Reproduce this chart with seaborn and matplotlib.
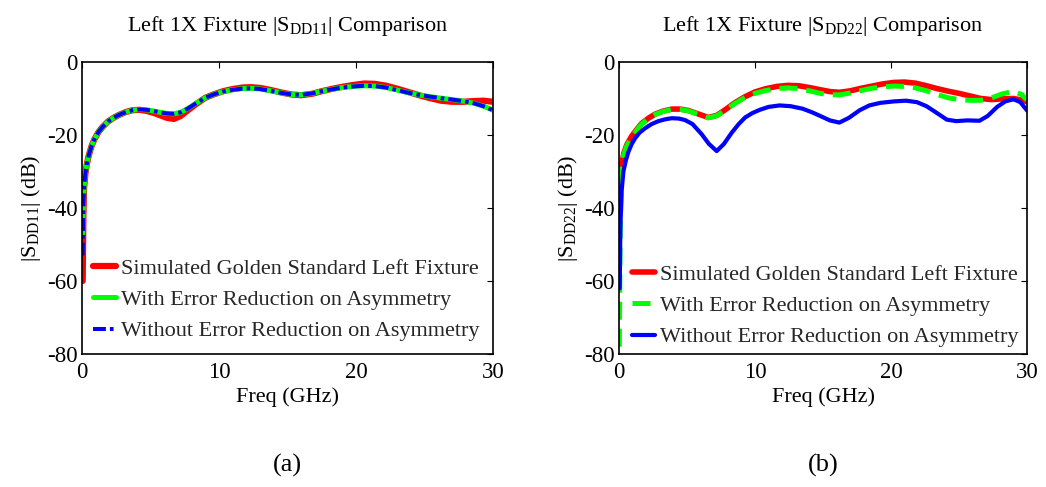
import matplotlib
matplotlib.use("Agg")
import matplotlib.pyplot as plt
import seaborn as sns

# ---- Panel (a): |S_DD11| of the left 1X fixture ----
freq_a = [0.05, 0.1, 0.15, 0.25, 0.35, 0.5, 0.7, 0.9, 1.2, 1.5, 1.9, 2.3, 2.7,
          3.2, 3.7, 4.2, 4.7, 5.2, 5.7, 6.2, 6.7, 7.2, 7.7, 8.3, 9.0, 9.6,
          10.3, 11.0, 11.7, 12.3, 13.0, 13.8, 14.6, 15.3, 16.0, 16.8, 17.5,
          18.2, 19.0, 19.8, 20.6, 21.4, 22.2, 23.0, 23.8, 24.6, 25.4, 26.2,
          27.0, 27.8, 28.6, 29.3, 30.0]
golden_a = [-60, -42, -34.5, -30.5, -28, -25.5, -23, -21.2, -19.2, -17.8, -16.3,
            -15.3, -14.5, -13.7, -13.2, -13.1, -13.4, -13.9, -14.6, -15.3, -15.6,
            -14.8, -13.3, -11.6, -9.8, -8.9, -8.0, -7.4, -7.0, -6.9, -7.1, -7.7,
            -8.4, -8.9, -9.1, -8.7, -8.0, -7.4, -6.8, -6.3, -5.9, -6.0, -6.5,
            -7.3, -8.2, -9.1, -9.9, -10.6, -10.9, -10.9, -10.7, -10.6, -10.9]
with_red_a = [-47, -40, -34, -30.5, -28, -25.5, -23, -21.2, -19.2, -17.8, -16.3,
              -15.3, -14.5, -13.7, -13.2, -13.0, -13.1, -13.4, -13.8, -14.1, -14.2,
              -13.8, -12.8, -11.4, -9.8, -8.9, -8.1, -7.6, -7.3, -7.2, -7.4, -7.9,
              -8.5, -8.9, -9.0, -8.6, -8.0, -7.5, -7.0, -6.7, -6.5, -6.6, -7.0,
              -7.7, -8.4, -9.0, -9.5, -9.9, -10.3, -10.7, -11.3, -12.1, -13.2]
without_red_a = [-53, -40, -34, -30.5, -28, -25.5, -23, -21.2, -19.2, -17.8, -16.3,
                 -15.3, -14.5, -13.7, -13.2, -13.0, -13.1, -13.4, -13.8, -14.1, -14.2,
                 -13.8, -12.8, -11.4, -9.8, -8.9, -8.1, -7.6, -7.3, -7.2, -7.4, -7.9,
                 -8.5, -8.9, -9.0, -8.6, -8.0, -7.5, -7.0, -6.7, -6.5, -6.6, -7.0,
                 -7.7, -8.4, -9.0, -9.5, -9.9, -10.3, -10.7, -11.3, -12.1, -13.2]

# ---- Panel (b): |S_DD22| of the left 1X fixture ----
freq_b_golden = [0.05, 0.1, 0.2, 0.35, 0.57, 0.93, 1.3, 1.67, 2.2, 2.65, 3.2, 3.87,
                 4.5, 5.1, 5.8, 6.57, 7.2, 7.8, 8.5, 9.27, 10.0, 10.8, 11.6, 12.4,
                 13.2, 14.0, 14.8, 15.5, 16.2, 17.0, 17.8, 18.6, 19.4, 20.2, 21.0,
                 21.8, 22.6, 23.4, 24.2, 25.0, 25.8, 26.6, 27.4, 28.2, 29.0, 29.6,
                 30.0]
golden_b = [-37, -32, -28, -25, -22.7, -20.3, -18.5, -16.8, -15.3, -14.3, -13.5,
            -12.9, -12.9, -13.3, -14.2, -15.2, -14.6, -13.1, -11.2, -9.5, -8.2,
            -7.3, -6.7, -6.4, -6.5, -7.0, -7.6, -8.1, -8.3, -7.9, -7.2, -6.6, -6.0,
            -5.6, -5.5, -5.8, -6.5, -7.3, -8.0, -8.6, -9.3, -10.0, -10.3, -10.1,
            -10.0, -10.4, -10.9]

freq_b_with = [0.02, 0.08, 0.15, 0.2, 0.35, 0.57, 0.93, 1.3, 1.67, 2.2, 2.65, 3.2,
               3.87, 4.5, 5.1, 5.8, 6.57, 7.2, 7.8, 8.5, 9.27, 10.0, 10.8, 11.6,
               12.4, 13.2, 14.0, 14.8, 15.5, 16.2, 17.0, 17.8, 18.6, 19.4, 20.2,
               21.0, 21.8, 22.6, 23.4, 24.2, 25.0, 25.8, 26.6, 27.4, 28.2, 29.0,
               29.6, 30.0]
with_red_b = [-78, -50, -33, -28.5, -25.3, -23.0, -20.6, -18.7, -17.0, -15.4, -14.4,
              -13.6, -13.0, -13.0, -13.4, -14.3, -15.3, -14.7, -13.3, -11.4, -9.7,
              -8.6, -7.8, -7.3, -7.1, -7.3, -7.9, -8.6, -9.0, -9.0, -8.5, -7.8,
              -7.2, -6.8, -6.6, -6.7, -7.1, -7.9, -8.9, -9.8, -10.3, -10.5, -10.5,
              -9.8, -8.7, -8.1, -8.9, -10.4]

freq_b_without = [0.05, 0.1, 0.2, 0.32, 0.5, 0.69, 0.93, 1.18, 1.5, 1.9, 2.4, 2.9,
                  3.4, 3.87, 4.4, 4.85, 5.4, 6.08, 6.6, 7.18, 7.7, 8.3, 8.8, 9.27,
                  9.8, 10.35, 11.0, 11.8, 12.6, 13.5, 14.2, 14.8, 15.5, 16.2, 16.9,
                  17.7, 18.4, 19.2, 20.2, 21.1, 21.9, 22.6, 23.3, 24.1, 24.8, 25.6,
                  26.5, 27.1, 27.8, 28.4, 29.0, 29.5, 30.0]
without_red_b = [-62, -45, -35, -30, -27, -24.6, -22.5, -20.9, -19.4, -18.2, -17.0,
                 -16.2, -15.7, -15.4, -15.5, -15.9, -17.0, -19.8, -22.4, -24.4, -22.5,
                 -19.3, -17.0, -15.2, -14.0, -13.1, -12.3, -11.9, -12.1, -12.8, -13.8,
                 -14.8, -16.0, -16.6, -15.3, -13.2, -11.9, -11.2, -10.8, -10.6, -11.0,
                 -12.1, -13.8, -15.8, -16.2, -16.0, -16.1, -14.8, -12.3, -10.8, -10.2,
                 -11.0, -13.3]

labels = ["Simulated Golden Standard Left Fixture",
          "With Error Reduction on Asymmetry",
          "Without Error Reduction on Asymmetry"]
titles = ["Left 1X Fixture |S$\\mathregular{_{DD11}}$| Comparison",
          "Left 1X Fixture |S$\\mathregular{_{DD22}}$| Comparison"]
ylabels = ["|S$\\mathregular{_{DD11}}$| (dB)", "|S$\\mathregular{_{DD22}}$| (dB)"]
captions = ["(a)", "(b)"]
x_ticks = [0, 10, 20, 30]
y_ticks = [-80, -60, -40, -20, 0]

sns.set_theme(style="white")
plt.rcParams["font.family"] = ["Liberation Serif", "DejaVu Serif"]
plt.rcParams["mathtext.fontset"] = "custom"
plt.rcParams["mathtext.rm"] = "Liberation Serif"
plt.rcParams["axes.unicode_minus"] = False

RED, GREEN, BLUE = "#ff0000", "#00ff00", "#0000ff"

fig = plt.figure(figsize=(10.46, 4.87), dpi=100)
ax_a = fig.add_axes([0.0784, 0.2731, 0.3929, 0.5996])
ax_b = fig.add_axes([0.5918, 0.2731, 0.3901, 0.5996])

# panel (a)
sns.lineplot(x=freq_a, y=golden_a, ax=ax_a, color=RED, lw=4.5,
             estimator=None, sort=False, label=labels[0])
sns.lineplot(x=freq_a, y=with_red_a, ax=ax_a, color=GREEN, lw=3.6,
             estimator=None, sort=False, label=labels[1])
sns.lineplot(x=freq_a, y=without_red_a, ax=ax_a, color=BLUE, lw=2.9,
             estimator=None, sort=False, label=labels[2],
             linestyle=(0, (3.2, 1.0, 0.9, 1.0)))

# panel (b)
sns.lineplot(x=freq_b_golden, y=golden_b, ax=ax_b, color=RED, lw=4.0,
             estimator=None, sort=False, label=labels[0])
sns.lineplot(x=freq_b_with, y=with_red_b, ax=ax_b, color=GREEN, lw=3.6,
             estimator=None, sort=False, label=labels[1],
             linestyle=(0, (3.6, 1.8)))
sns.lineplot(x=freq_b_without, y=without_red_b, ax=ax_b, color=BLUE, lw=3.0,
             estimator=None, sort=False, label=labels[2])

legend_anchor = {0: (0.01, 0.02), 1: (0.015, 0.0)}

for i, (ax, title, ylab, cap) in enumerate(zip([ax_a, ax_b], titles, ylabels, captions)):
    ax.set_xlim(0, 30)
    ax.set_ylim(-80, 0)
    ax.set_xticks(x_ticks)
    ax.set_yticks(y_ticks)
    ax.tick_params(direction="in", length=4, width=0.8, top=True, right=True,
                   labelsize=16.5, pad=3, colors="black")
    ax.tick_params(axis="x", pad=6)
    for sp in ax.spines.values():
        sp.set_color("black")
        sp.set_linewidth(1.2)
    ax.set_title(title, fontsize=16, pad=22, color="black")
    ax.set_xlabel("Freq (GHz)", fontsize=16, labelpad=3, color="black")
    ax.set_ylabel(ylab, fontsize=16, labelpad=3, color="black")
    ax.legend(loc="lower left", bbox_to_anchor=legend_anchor[i], frameon=False,
              fontsize=16, handlelength=1.05, handletextpad=0.2,
              labelspacing=0.48, borderaxespad=0.0, borderpad=0.3)
    pos = ax.get_position()
    fig.text(pos.x0 + pos.width / 2, 0.045, cap, ha="center", va="center",
             fontsize=19, color="black")

fig.savefig("out.png", dpi=100, facecolor="white")
